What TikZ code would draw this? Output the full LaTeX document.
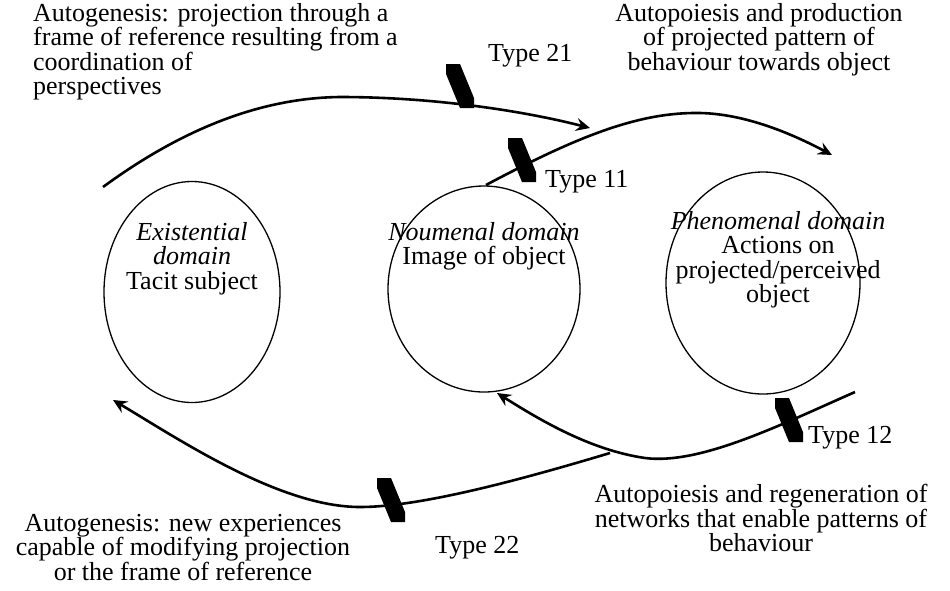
\documentclass[tikz,border=0pt]{standalone}
\usepackage{fontspec}
\setmainfont{Liberation Serif}
\usetikzlibrary{arrows.meta,shapes.geometric}
\begin{document}
\begin{tikzpicture}[x=1pt,y=-1pt,
  domainbox/.style={draw, ellipse, line width=1.3pt, inner sep=0pt},
  txt/.style={font=\fontsize{26}{24.5}\selectfont, inner sep=0pt},
  flow/.style={line width=2.6pt, -{Stealth[length=14pt,width=13pt,inset=5pt]}},
  tick/.pic={\fill (-14,-22) -- (0,-22) -- (14,12) -- (14,22) -- (0,22) -- (-14,-12) -- cycle;}
]
\useasboundingbox (0,0) rectangle (950,590);

% the three domains
\node[domainbox, minimum width=176pt, minimum height=221pt] (exist) at (192,292) {};
\node[domainbox, minimum width=192pt, minimum height=206pt] (noum) at (484,289) {};
\node[domainbox, minimum width=194pt, minimum height=222pt] (phen) at (763,283) {};

\node[txt, align=center, anchor=north] (existtxt) at (192,222)
  {\textit{Existential}\\\textit{domain}\\Tacit subject};
\node[txt, align=center, anchor=north] (noumtxt) at (484,222)
  {\textit{Noumenal domain}\\Image of object};
\node[txt, align=center, anchor=north] (phentxt) at (778,211)
  {\textit{Phenomenal domain}\\Actions on\\projected/perceived\\object};

% end points of the connectors
\coordinate (s21) at (103,187);
\coordinate (e21) at (590,128);
\coordinate (s11) at (486,185);
\coordinate (e11) at (832,155);
\coordinate (s12) at (855,392);
\coordinate (e12) at (497,393);
\coordinate (s22) at (610,453);
\coordinate (e22) at (113,400);

% connectors
\draw[flow] (s21) .. controls (170,138) and (250,98) .. (340,97)
  .. controls (430,97) and (520,110) .. (e21);
\draw[flow] (s11) .. controls (580,135) and (640,112) .. (700,113)
  .. controls (750,114) and (800,138) .. (e11);
\draw[flow] (s12) .. controls (780,425) and (700,465) .. (645,458)
  .. controls (590,450) and (540,420) .. (e12);
\draw[flow] (s22) .. controls (520,480) and (420,507) .. (360,507)
  .. controls (280,507) and (180,440) .. (e22);

% marks on the connectors
\pic at (460,86) {tick};
\pic at (522,160) {tick};
\pic at (789,420) {tick};
\pic at (391,500) {tick};

\node[txt, anchor=west] (t21) at (488,56) {Type 21};
\node[txt, anchor=west] (t11) at (545,182) {Type 11};
\node[txt, anchor=west] (t12) at (808,438) {Type 12};
\node[txt, anchor=west] (t22) at (435,548) {Type 22};

% descriptions
\node[txt, align=left, anchor=north west] (d21) at (33,3)
  {Autogenesis: projection through a\\frame of reference resulting from a\\coordination of\\perspectives};
\node[txt, align=center, anchor=north] (d11) at (759,3)
  {Autopoiesis and production\\of projected pattern of\\behaviour towards object};
\node[txt, align=center, anchor=north] (d12) at (761,484)
  {Autopoiesis and regeneration of\\networks that enable patterns of\\behaviour};
\node[txt, align=center, anchor=north] (d22) at (183,514)
  {Autogenesis: new experiences\\capable of modifying projection\\or the frame of reference};
\end{tikzpicture}
\end{document}
